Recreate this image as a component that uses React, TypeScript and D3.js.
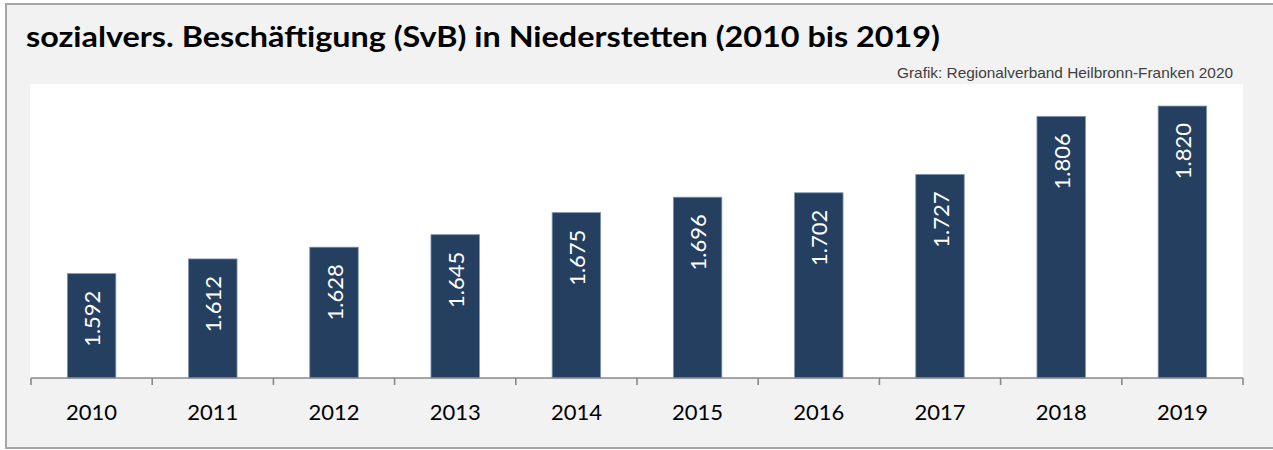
import React from "react";
import * as d3 from "d3";

const title = "sozialvers. Beschäftigung (SvB) in Niederstetten (2010 bis 2019)";
const source = "Grafik: Regionalverband Heilbronn-Franken 2020";
const years = ["2010", "2011", "2012", "2013", "2014", "2015", "2016", "2017", "2018", "2019"];
const values = [1592, 1612, 1628, 1645, 1675, 1696, 1702, 1727, 1806, 1820];
const yDomain = [1450, 1850];

const W = 1273;
const H = 450;
const plot = { left: 31, right: 1243, top: 84, bottom: 378 };

const fmt = (v: number) => d3.format(",")(v).replace(/,/g, ".");

export default function App() {
  const x = d3
    .scaleBand<string>()
    .domain(years)
    .range([plot.left, plot.right])
    .paddingInner(0.6)
    .paddingOuter(0.3);
  const y = d3.scaleLinear().domain(yDomain).range([plot.bottom, plot.top]);
  const step = x.step();
  const tickXs = d3.range(years.length + 1).map((i) => plot.left + i * step);

  return (
    <svg
      width={W}
      height={H}
      style={{ position: "absolute", left: 0, top: 0, background: "#ffffff" }}
    >
      <rect x={6} y={4} width={1300} height={444} fill="#f2f2f2" stroke="#a6a6a6" strokeWidth={2} />
      <text
        x={26}
        y={47}
        fontFamily="Lato, 'Open Sans', sans-serif"
        fontWeight="bold"
        fontSize={28}
        fill="#000"
        textLength={914}
        lengthAdjust="spacingAndGlyphs"
      >
        {title}
      </text>
      <text
        x={1233}
        y={78}
        textAnchor="end"
        fontFamily="'Liberation Sans', Arial, sans-serif"
        fontSize={14.5}
        fill="#404040"
        textLength={336}
        lengthAdjust="spacingAndGlyphs"
      >
        {source}
      </text>
      <rect
        x={30}
        y={plot.top}
        width={plot.right - 30}
        height={plot.bottom - plot.top}
        fill="#ffffff"
      />
      {years.map((yr, i) => {
        const bx = x(yr)!;
        const by = y(values[i]);
        return (
          <g key={yr}>
            <rect
              x={bx}
              y={by}
              width={x.bandwidth()}
              height={plot.bottom - by}
              fill="#243f60"
              stroke="#8095b0"
              strokeWidth={0.8}
            />
            <text
              transform={`translate(${bx + x.bandwidth() / 2},${by + 17}) rotate(-90)`}
              textAnchor="end"
              dominantBaseline="central"
              fontFamily="Lato, 'Open Sans', sans-serif"
              fontSize={22}
              fill="#ffffff"
            >
              {fmt(values[i])}
            </text>
            <text
              x={bx + x.bandwidth() / 2}
              y={420}
              textAnchor="middle"
              fontFamily="Lato, 'Open Sans', sans-serif"
              fontSize={22}
              fill="#000"
            >
              {yr}
            </text>
          </g>
        );
      })}
      <line x1={plot.left} x2={plot.right} y1={plot.bottom} y2={plot.bottom} stroke="#898989" strokeWidth={1.6} />
      {tickXs.map((tx, i) => (
        <line key={i} x1={tx} x2={tx} y1={plot.bottom} y2={plot.bottom + 7} stroke="#898989" strokeWidth={1.6} />
      ))}
    </svg>
  );
}
